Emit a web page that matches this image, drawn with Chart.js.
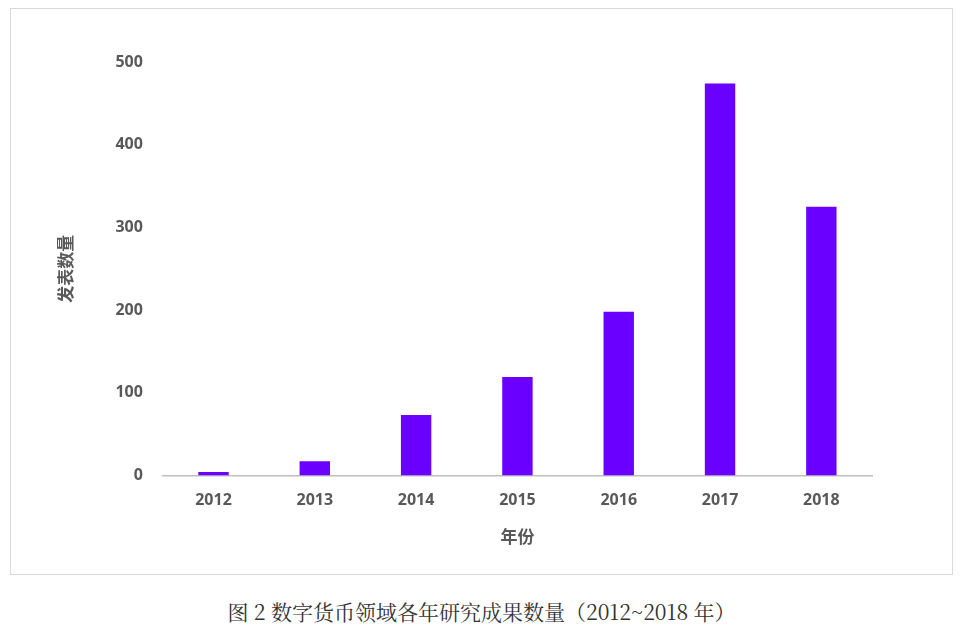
<!DOCTYPE html>
<html>
<head>
<meta charset="utf-8">
<script src="https://cdn.jsdelivr.net/npm/chart.js@4"></script>
<style>
body{margin:0;background:#fff;width:963px;height:626px;position:relative;overflow:hidden}
#box{position:absolute;left:10px;top:8px;width:941px;height:565px;border:1px solid #d9d9d9}
#cap{position:absolute;left:0;width:963px;top:596px;text-align:center;font-family:"Noto Serif CJK SC","Noto Sans CJK SC",serif;font-size:21px;color:#333}
</style>
</head>
<body>
<div id="box"><canvas id="c" width="941" height="565"></canvas></div>
<div id="cap">图 2 数字货币领域各年研究成果数量（2012~2018 年）</div>
<script>
"use strict";
var years = ["2012","2013","2014","2015","2016","2017","2018"];
var counts = [4, 17, 73, 119, 198, 474, 325];
var yTicks = [0, 100, 200, 300, 400, 500];

var ctx = document.getElementById("c");
new Chart(ctx, {
    type: 'bar',
    data: {
        labels: years,
        datasets: [{
            label: "发表数量",
            data: counts,
            backgroundColor: "#6a00ff",
            categoryPercentage: 1,
            barPercentage: 0.3
        }]
    },
    options: {
        responsive: false,
        animation: false,
        layout: {padding: {left: 40, right: 80, top: 53, bottom: 23}},
        plugins: {legend: {display: false}, tooltip: {enabled: false}},
        scales: {
            x: {
                grid: {display: false, drawTicks: false},
                border: {color: "#bfbfbf", width: 1.5},
                ticks: {color: "#595959", font: {family: "Open Sans", size: 16, weight: "bold"}, padding: 15},
                title: {display: true, text: "年份", color: "#595959", font: {family: "Noto Sans CJK SC", size: 17, weight: "bold"}, padding: {top: 2}}
            },
            y: {
                min: 0, max: 500,
                afterBuildTicks: function (axis) { axis.ticks = yTicks.map(function (v) { return {value: v}; }); },
                grid: {display: false, drawTicks: false},
                border: {display: false},
                ticks: {color: "#595959", font: {family: "Open Sans", size: 16, weight: "bold"}, padding: 20},
                title: {display: true, text: "发表数量", color: "#595959", font: {family: "Noto Sans CJK SC", size: 17, weight: "bold"}, padding: {bottom: 20}}
            }
        }
    }
});
</script>
</body>
</html>
